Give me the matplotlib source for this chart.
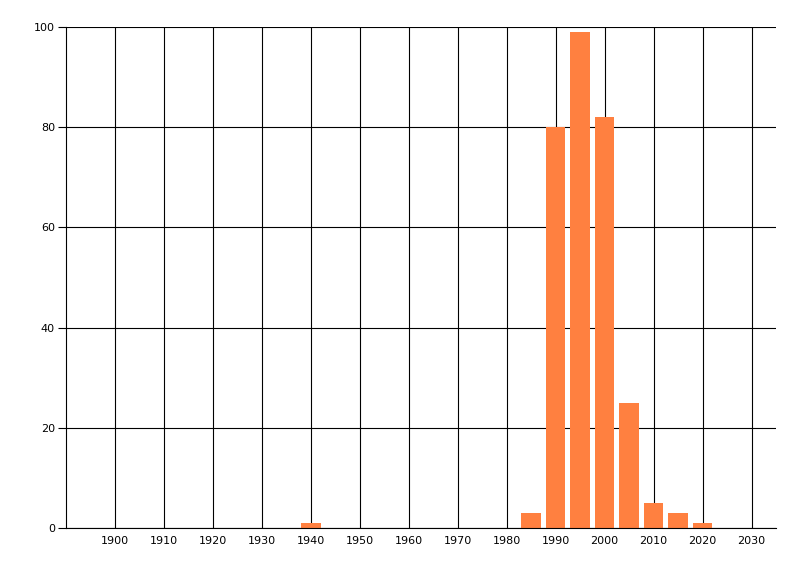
import matplotlib
matplotlib.use("Agg")
import matplotlib.pyplot as plt

years = [1940, 1985, 1990, 1995, 2000, 2005, 2010, 2015, 2020]
counts = [1, 3, 80, 99, 82, 25, 5, 3, 1]
xticks = list(range(1900, 2031, 10))
yticks = [0, 20, 40, 60, 80, 100]

fig = plt.figure(figsize=(8, 5.76), dpi=100)
ax = fig.add_axes([66/800, 48/576, 710/800, 501/576])
ax.set_axisbelow(True)
ax.bar(years, counts, width=4.0, color="#FF8040", zorder=2)
ax.set_xlim(1890, 2035)
ax.set_ylim(0, 100)
ax.set_xticks(xticks)
ax.set_yticks(yticks)
ax.grid(True, color="black", linewidth=0.8, zorder=0)
for s in ["top", "right"]:
    ax.spines[s].set_visible(False)
ax.spines["left"].set_linewidth(0.8)
ax.spines["bottom"].set_linewidth(0.8)
ax.tick_params(axis="y", length=6, width=0.8, labelsize=8, pad=2)
ax.tick_params(axis="x", length=0, labelsize=8, pad=6)
fig.savefig("out.png", dpi=100)
